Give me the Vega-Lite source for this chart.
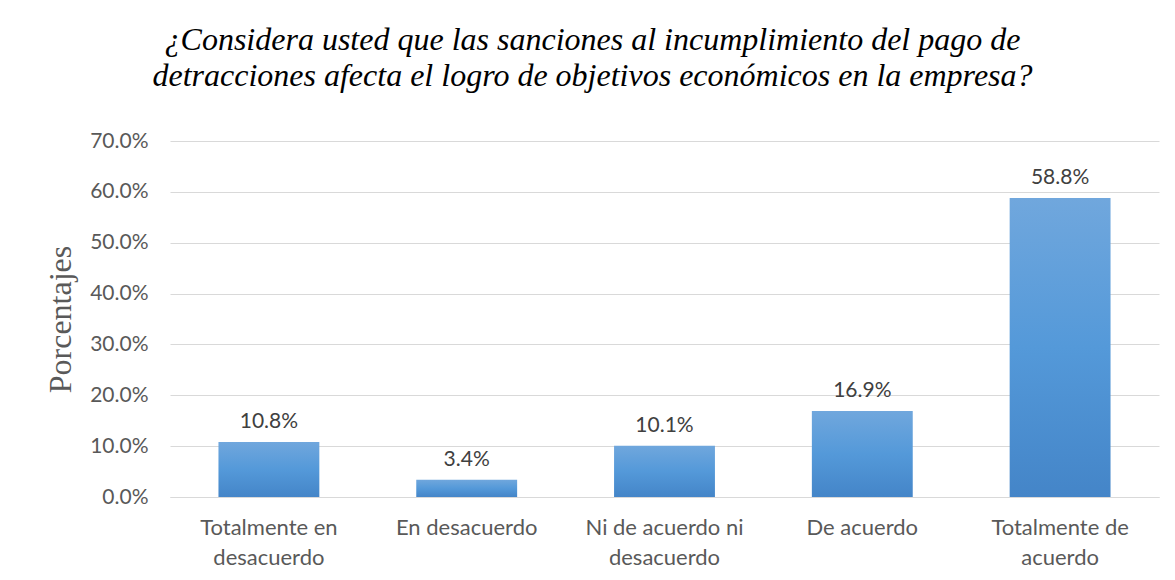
{
  "$schema": "https://vega.github.io/schema/vega-lite/v6.json",
  "autosize": "none",
  "width": 989,
  "height": 356,
  "padding": {"left": 170, "top": 141, "right": 16, "bottom": 83},
  "background": "white",
  "title": {
    "text": ["¿Considera usted que las sanciones al incumplimiento del pago de", "detracciones afecta el logro de objetivos económicos en la empresa?"],
    "font": "Liberation Serif",
    "fontStyle": "italic",
    "fontWeight": "normal",
    "fontSize": 32,
    "color": "#000000",
    "anchor": "middle",
    "dx": -72,
    "offset": 37,
    "lineHeight": 36
  },
  "data": {
    "values": [
      {"cat": "Totalmente en desacuerdo", "pct": 0.108},
      {"cat": "En desacuerdo", "pct": 0.034},
      {"cat": "Ni de acuerdo ni desacuerdo", "pct": 0.101},
      {"cat": "De acuerdo", "pct": 0.169},
      {"cat": "Totalmente de acuerdo", "pct": 0.588}
    ]
  },
  "encoding": {
    "x": {
      "field": "cat",
      "type": "nominal",
      "sort": null,
      "scale": {"paddingInner": 0.49, "paddingOuter": 0.245},
      "axis": {
        "title": null,
        "labelAngle": 0,
        "labelFont": "Lato",
        "labelFontSize": 22,
        "labelColor": "#595959",
        "labelPadding": 20,
        "labelLineHeight": 30,
        "labelExpr": "datum.label == 'Totalmente en desacuerdo' ? ['Totalmente en', 'desacuerdo'] : datum.label == 'Ni de acuerdo ni desacuerdo' ? ['Ni de acuerdo ni', 'desacuerdo'] : datum.label == 'Totalmente de acuerdo' ? ['Totalmente de', 'acuerdo'] : datum.label",
        "ticks": false,
        "domainColor": "#d9d9d9",
        "domainWidth": 1,
        "grid": false
      }
    },
    "y": {
      "field": "pct",
      "type": "quantitative",
      "scale": {"domain": [0, 0.7], "nice": false},
      "axis": {
        "title": "Porcentajes",
        "titleFont": "Liberation Serif",
        "titleFontSize": 32,
        "titleFontWeight": "normal",
        "titleColor": "#595959",
        "titlePadding": 12,
        "format": ".1%",
        "values": [0, 0.1, 0.2, 0.3, 0.4, 0.5, 0.6, 0.7],
        "labelFont": "Lato",
        "labelFontSize": 21,
        "labelColor": "#595959",
        "labelPadding": 22,
        "ticks": false,
        "domain": false,
        "gridColor": "#d9d9d9",
        "gridWidth": 1
      }
    }
  },
  "layer": [
    {
      "mark": {
        "type": "bar",
        "color": {
          "gradient": "linear",
          "x1": 0, "y1": 0, "x2": 0, "y2": 1,
          "stops": [
            {"offset": 0, "color": "#70a7dd"},
            {"offset": 0.5, "color": "#5499d9"},
            {"offset": 1, "color": "#4485c8"}
          ]
        }
      }
    },
    {
      "mark": {
        "type": "text",
        "baseline": "bottom",
        "dy": -10,
        "font": "Lato",
        "fontSize": 21,
        "color": "#404040"
      },
      "encoding": {
        "text": {"field": "pct", "type": "quantitative", "format": ".1%"}
      }
    }
  ],
  "config": {
    "view": {"stroke": null}
  }
}
